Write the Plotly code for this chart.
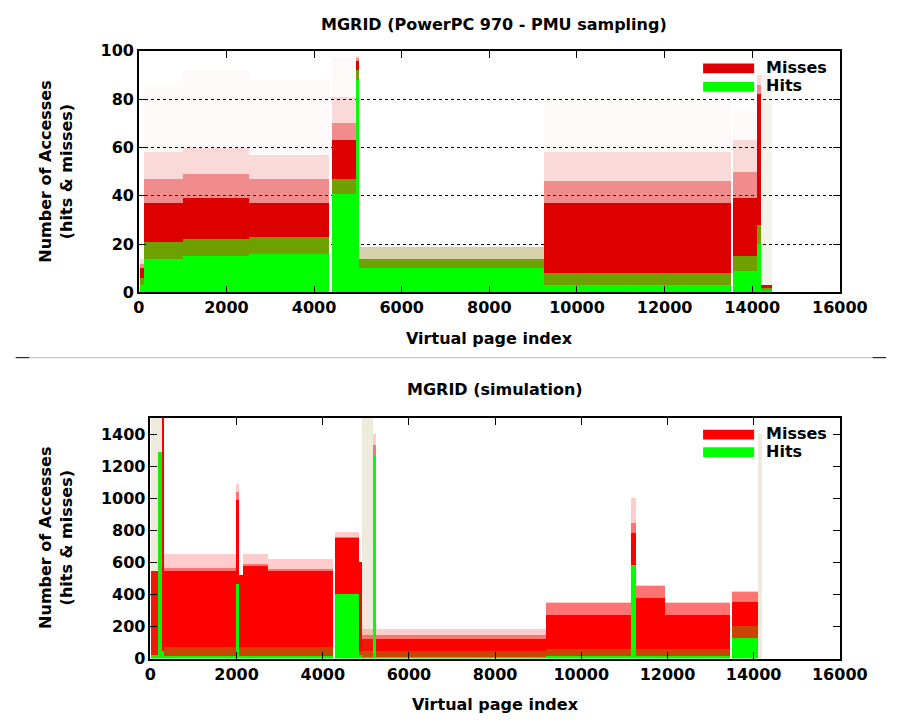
import plotly.graph_objects as go

W, H = 915, 728

# ---------------- data: top chart (PowerPC 970 - PMU sampling) ----------------
top_start = [20, 110, 1000, 2500, 4400, 4950, 5030, 9250, 13560, 14110, 14200]
top_end   = [110, 1000, 2500, 4330, 4950, 5030, 9250, 13520, 14110, 14200, 14450]
top_hits  = [3, 14, 15, 16, 41, 88, 10, 3, 9, 20, 1]
top_mix   = [6, 21, 22, 23, 47, 92, 14, 8, 15, 28, 2]
top_fringe = [6, 21, 22, 23, 47, 92, 19, 8, 15, 28, 2]
top_miss  = [10, 37, 39, 37, 63, 96, 14, 37, 39, 82, 3]
top_fade1 = [12, 47, 49, 47, 70, 97, 14, 46, 50, 86, 3]
top_fade2 = [14, 58, 60, 57, 81, 98, 14, 58, 63, 90, 3]
top_faint = [16, 85, 92, 88, 97, 99, 14, 78, 75, 92, 3]
top_streak_start = [14200]
top_streak_end = [14450]
top_streak_top = [90]

# ---------------- data: bottom chart (simulation) ----------------
bot_start = [30, 180, 270, 335, 1990, 2070, 2160, 2750, 4300, 4850, 4930, 5180, 5250, 9200, 11170, 11290, 11950, 13500]
bot_end   = [180, 270, 335, 1990, 2070, 2160, 2750, 4250, 4850, 4930, 5180, 5250, 9200, 11170, 11290, 11950, 13450, 14120]
bot_hits  = [20, 1290, 50, 15, 465, 15, 15, 15, 400, 20, 10, 1260, 10, 15, 585, 15, 15, 130]
bot_mix   = [20, 1290, 50, 70, 465, 70, 70, 70, 400, 50, 45, 1260, 45, 60, 585, 60, 60, 200]
bot_miss  = [545, 1290, 1500, 545, 990, 520, 575, 545, 750, 600, 125, 1260, 125, 270, 780, 375, 270, 355]
bot_fade1 = [545, 1290, 1500, 565, 1040, 520, 590, 560, 760, 600, 145, 1330, 145, 345, 845, 455, 345, 415]
bot_fade2 = [545, 1290, 1500, 650, 1090, 520, 650, 620, 790, 600, 185, 1400, 185, 350, 1000, 460, 350, 420]
bot_streak_start = [30, 180, 4930, 14120]
bot_streak_end = [180, 270, 5180, 14200]
bot_streak_top = [1500, 1500, 1500, 1400]

x_ticks = [0, 2000, 4000, 6000, 8000, 10000, 12000, 14000, 16000]
top_yticks = [0, 20, 40, 60, 80, 100]
bot_yticks = [0, 200, 400, 600, 800, 1000, 1200, 1400]

GREEN = "#00ff00"
FONT = "DejaVu Sans"

fig = go.Figure()


def layer(start, end, lo, hi, color, xa, ya):
    xs = [(s + e) / 2 for s, e in zip(start, end)]
    ws = [e - s for s, e in zip(start, end)]
    hs = [max(h - l, 0) for l, h in zip(lo, hi)]
    fig.add_trace(go.Bar(x=xs, y=hs, base=list(lo), width=ws, marker=dict(color=color, line=dict(width=0)),
                         xaxis=xa, yaxis=ya, showlegend=False, hoverinfo="skip"))


# top chart
zeros_t = [0] * len(top_start)
layer(top_start, top_end, zeros_t, top_hits, GREEN, "x", "y")
layer(top_start, top_end, top_hits, top_mix, "rgb(110,160,0)", "x", "y")
layer(top_start, top_end, top_mix, top_fringe, "rgba(140,120,20,0.35)", "x", "y")
layer(top_start, top_end, top_mix, top_miss, "#dd0000", "x", "y")
layer(top_start, top_end, top_miss, top_fade1, "rgba(221,0,0,0.45)", "x", "y")
layer(top_start, top_end, top_fade1, top_fade2, "rgba(221,0,0,0.15)", "x", "y")
layer(top_start, top_end, top_fade2, top_faint, "rgba(221,0,0,0.025)", "x", "y")
layer(top_streak_start, top_streak_end, [0] * len(top_streak_start), top_streak_top, "rgba(150,140,60,0.1)", "x", "y")

# bottom chart
zeros_b = [0] * len(bot_start)
layer(bot_start, bot_end, zeros_b, bot_hits, GREEN, "x2", "y2")
layer(bot_start, bot_end, bot_hits, bot_mix, "rgb(200,70,0)", "x2", "y2")
layer(bot_start, bot_end, bot_mix, bot_miss, "#ff0000", "x2", "y2")
layer(bot_start, bot_end, bot_miss, bot_fade1, "rgba(255,0,0,0.55)", "x2", "y2")
layer(bot_start, bot_end, bot_fade1, bot_fade2, "rgba(255,0,0,0.2)", "x2", "y2")
layer(bot_streak_start, bot_streak_end, [0] * len(bot_streak_start), bot_streak_top, "rgba(160,140,60,0.18)", "x2", "y2")


def px(x):
    return x / W


def py(y):
    return 1 - y / H


tickfont = dict(family=FONT, size=16, color="black", weight="bold")
common_axis = dict(showline=True, linecolor="black", linewidth=1.5, mirror="ticks", ticks="inside",
                   ticklen=7, tickcolor="black", tickwidth=1, tickfont=tickfont, zeroline=False,
                   tickformat="d")

fig.update_layout(
    width=W, height=H, margin=dict(l=0, r=0, t=0, b=0),
    paper_bgcolor="white", plot_bgcolor="white", barmode="overlay", bargap=0,
    showlegend=False,
    xaxis=dict(domain=[px(138), px(866)], range=[0, 16000], tickvals=x_ticks, showgrid=False,
               anchor="y", **common_axis),
    yaxis=dict(domain=[py(291), py(43)], range=[0, 100], tickvals=top_yticks, showgrid=True,
               gridcolor="black", griddash="dot", gridwidth=1, anchor="x", **common_axis),
    xaxis2=dict(domain=[px(150), px(866)], range=[0, 16000], tickvals=x_ticks, showgrid=False,
                anchor="y2", **common_axis),
    yaxis2=dict(domain=[py(667), py(420)], range=[0, 1500], tickvals=bot_yticks, showgrid=False,
                anchor="x2", **common_axis),
)

ann_font = dict(family=FONT, size=16, color="black", weight="bold")
annotations = [
    dict(text="MGRID (PowerPC 970 - PMU sampling)", x=px(507), y=py(16)),
    dict(text="Virtual page index", x=px(502), y=py(338)),
    dict(text="MGRID (simulation)", x=px(508), y=py(391)),
    dict(text="Virtual page index", x=px(508), y=py(714)),
    dict(text="Number of Accesses<br>(hits & misses)", x=px(52), y=py(167), textangle=-90),
    dict(text="Number of Accesses<br>(hits & misses)", x=px(52), y=py(543), textangle=-90),
    dict(text="Misses", x=px(787), y=py(60), xanchor="left"),
    dict(text="Hits", x=px(787), y=py(79), xanchor="left"),
    dict(text="Misses", x=px(787), y=py(436), xanchor="left"),
    dict(text="Hits", x=px(787), y=py(454), xanchor="left"),
]
for a in annotations:
    a.setdefault("xanchor", "center")
    fig.add_annotation(xref="paper", yref="paper", showarrow=False, font=ann_font, yanchor="middle", **a)

shapes = [
    # legend keys
    dict(x0=px(724), x1=px(777), y0=py(66), y1=py(56), fillcolor="#dd0000"),
    dict(x0=px(724), x1=px(777), y0=py(85), y1=py(75), fillcolor=GREEN),
    dict(x0=px(724), x1=px(777), y0=py(442), y1=py(432), fillcolor="#ff0000"),
    dict(x0=px(724), x1=px(777), y0=py(460), y1=py(450), fillcolor=GREEN),
]
for s in shapes:
    fig.add_shape(type="rect", xref="paper", yref="paper", line=dict(width=0), **s)

# separator line
fig.add_shape(type="line", xref="paper", yref="paper", x0=px(24), x1=px(900), y0=py(358), y1=py(358),
              line=dict(color="#bbbbbb", width=1))
fig.add_shape(type="line", xref="paper", yref="paper", x0=px(10), x1=px(24), y0=py(358), y1=py(358),
              line=dict(color="black", width=1))
fig.add_shape(type="line", xref="paper", yref="paper", x0=px(900), x1=px(914), y0=py(358), y1=py(358),
              line=dict(color="black", width=1))

fig.write_html("out.html")
